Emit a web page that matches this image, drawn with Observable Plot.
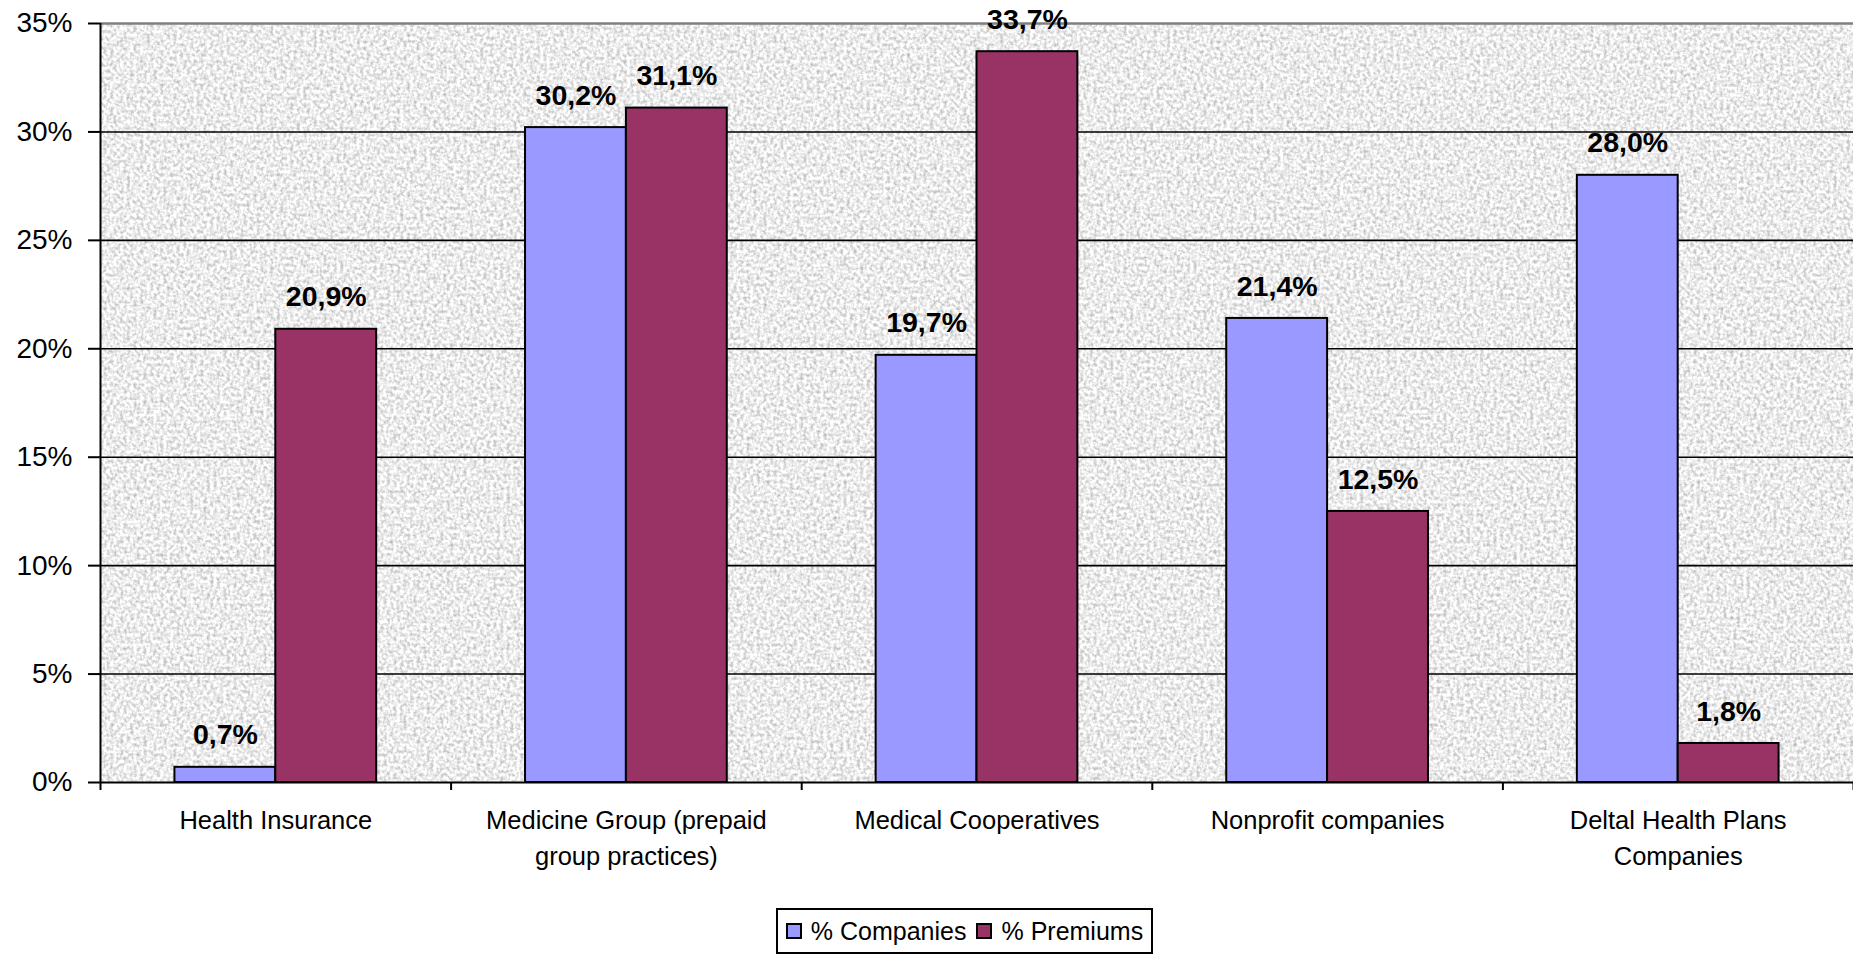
<!DOCTYPE html>
<html>
<head>
<meta charset="utf-8">
<script src="https://cdn.jsdelivr.net/npm/d3@7"></script>
<script src="https://cdn.jsdelivr.net/npm/@observablehq/plot@0.6"></script>
<style>
  html, body { margin: 0; padding: 0; background: #fff; }
  body { width: 1853px; height: 955px; overflow: hidden; font-family: "Liberation Sans", Arial, sans-serif; }
  #chart svg { display: block; }
  #legendWrap { padding-left: 76px; display: flex; justify-content: center; margin-top: 8px; }
  #legend { display: flex; align-items: center; border: 2px solid #000; height: 42px; padding: 0 8px 0 8px; font-size: 25px; color: #000; }
  .item { display: flex; align-items: center; margin-right: 10px; }
  .item:last-child { margin-right: 0; }
  .sw { width: 12px; height: 12px; border: 2px solid #000; margin-right: 9px; }
</style>
</head>
<body>
<div id="chart"></div>
<div id="legendWrap"><div id="legend"></div></div>
<script>
// ---- data ----
const categories = [
  "Health Insurance",
  "Medicine Group (prepaid\ngroup practices)",
  "Medical Cooperatives",
  "Nonprofit companies",
  "Deltal Health Plans\nCompanies"
];
const seriesNames = ["% Companies", "% Premiums"];
const companies = [0.7, 30.2, 19.7, 21.4, 28.0];
const premiums = [20.9, 31.1, 33.7, 12.5, 1.8];
const yTicks = [0, 5, 10, 15, 20, 25, 30, 35];
const colors = ["#9999FF", "#993366"];

// ---- layout constants (in category-step units) ----
const outerGap = 0.2123;
const half = 0.5;

const rows = [];
categories.forEach((c, i) => {
  rows.push({cat: c, i, series: seriesNames[0], value: companies[i], x1: i + outerGap, x2: i + half});
  rows.push({cat: c, i, series: seriesNames[1], value: premiums[i], x1: i + half, x2: i + 1 - outerGap});
});
const fmt = v => v.toFixed(1).replace(".", ",") + "%";

const plot = Plot.plot({
  width: 1853,
  height: 900,
  marginLeft: 100,
  marginRight: 0,
  marginTop: 23,
  marginBottom: 118,
  style: {fontFamily: "'Liberation Sans', Arial, sans-serif", color: "#000", background: "#fff"},
  x: {type: "linear", domain: [0, categories.length], axis: null},
  y: {domain: [0, 35], axis: null},
  color: {domain: seriesNames, range: colors},
  marks: [
    Plot.frame({fill: "#ebebeb", stroke: "none"}),
    Plot.gridY(yTicks.filter(t => t > 0 && t < 35), {stroke: "#000", strokeOpacity: 1, strokeWidth: 1.6}),
    Plot.ruleY([35], {stroke: "#7f7f7f", strokeWidth: 2.5}),
    Plot.rectY(rows, {x1: "x1", x2: "x2", y: "value", fill: "series", stroke: "#000", strokeWidth: 2}),
    Plot.text(rows, {x: d => (d.x1 + d.x2) / 2, y: "value", text: d => fmt(d.value), dy: -32,
      fontSize: 28.5, fontWeight: "bold", fill: "#000", lineAnchor: "middle"}),
    Plot.ruleX([0], {stroke: "#000", strokeWidth: 2}),
    Plot.ruleY([0], {stroke: "#000", strokeWidth: 2}),
    Plot.axisY({ticks: yTicks, tickFormat: d => d + "%", tickSize: 12, tickPadding: 16, fontSize: 28,
      stroke: "#000", strokeWidth: 2, label: null}),
    Plot.axisX({ticks: d3.range(0, categories.length + 1), tickFormat: () => "", tickSize: 8, stroke: "#000", strokeWidth: 2, label: null}),
    Plot.axisX({ticks: categories.map((c, i) => i + 0.5), tickFormat: d => categories[Math.floor(d)],
      tickSize: 0, tickPadding: 21, fontSize: 25.5, lineHeight: 1.4, lineAnchor: "top", label: null})
  ]
});
document.getElementById("chart").appendChild(plot);

// paper-like texture on the plot area
const svg = d3.select(plot);
const defs = svg.insert("defs", ":first-child");
const f = defs.append("filter").attr("id", "tex").attr("x", 0).attr("y", 0).attr("width", 1).attr("height", 1)
  .attr("color-interpolation-filters", "sRGB");
f.append("feTurbulence").attr("type", "fractalNoise").attr("baseFrequency", 0.3).attr("numOctaves", 2).attr("seed", 3).attr("result", "n");
f.append("feColorMatrix").attr("in", "n").attr("type", "matrix")
  .attr("values", "0.55 0 0 0 0.65  0.55 0 0 0 0.65  0.55 0 0 0 0.65  0 0 0 0 1");
svg.selectAll("[aria-label=frame] rect, rect[aria-label=frame]").attr("filter", "url(#tex)");

// legend
const lg = document.getElementById("legend");
seriesNames.forEach((s, k) => {
  const it = document.createElement("div");
  it.className = "item";
  const sw = document.createElement("div");
  sw.className = "sw";
  sw.style.background = colors[k];
  const t = document.createElement("span");
  t.textContent = s;
  it.appendChild(sw); it.appendChild(t);
  lg.appendChild(it);
});
</script>
</body>
</html>
